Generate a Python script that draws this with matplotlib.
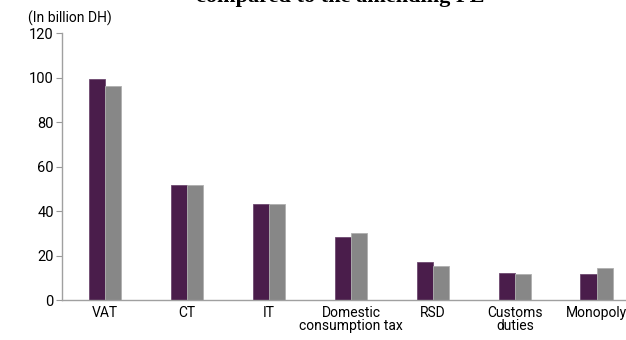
import matplotlib
matplotlib.use("Agg")
import matplotlib.pyplot as plt
import numpy as np

categories = ['VAT', 'CT', 'IT', 'Domestic\nconsumption tax', 'RSD', 'Customs\nduties', 'Monopoly']
realised = [99.5, 51.8, 43.2, 28.4, 16.9, 12.3, 11.6]
forecast = [96.0, 51.8, 43.2, 30.2, 15.2, 11.6, 14.2]
yticks = [0, 20, 40, 60, 80, 100, 120]

plt.rcParams['font.family'] = ['Roboto', 'DejaVu Sans']

fig = plt.figure(figsize=(6.26, 3.4), dpi=100)
ax = fig.add_axes([0.099, 0.1176, 0.92, 0.785])

x = np.arange(len(categories))
w = 0.2
ax.bar(x - w / 2, realised, w, color='#4a1d4b', edgecolor='#6e4a70', linewidth=0.6)
ax.bar(x + w / 2, forecast, w, color='#878787', edgecolor='#b0b0b0', linewidth=0.6)

ax.set_xlim(-0.524, 6.5)
ax.set_ylim(0, 120)
ax.set_yticks(yticks)
ax.set_xticks(x)
ax.set_xticklabels(categories, fontsize=10, linespacing=0.95)
ax.tick_params(axis='x', length=0, pad=4)
ax.tick_params(axis='y', length=4, color='#999999', labelsize=10.5, pad=2)

for s in ['top', 'right']:
    ax.spines[s].set_visible(False)
for s in ['left', 'bottom']:
    ax.spines[s].set_color('#a0a0a0')
    ax.spines[s].set_linewidth(1.0)

fig.text(0.045, 0.945, '(In billion DH)', fontsize=10, va='center', ha='left')
fig.text(0.543, 0.994, 'compared to the amending FL', fontsize=16, fontweight='bold',
         family='Liberation Serif', ha='center', va='baseline')

fig.savefig('out.png', dpi=100)
